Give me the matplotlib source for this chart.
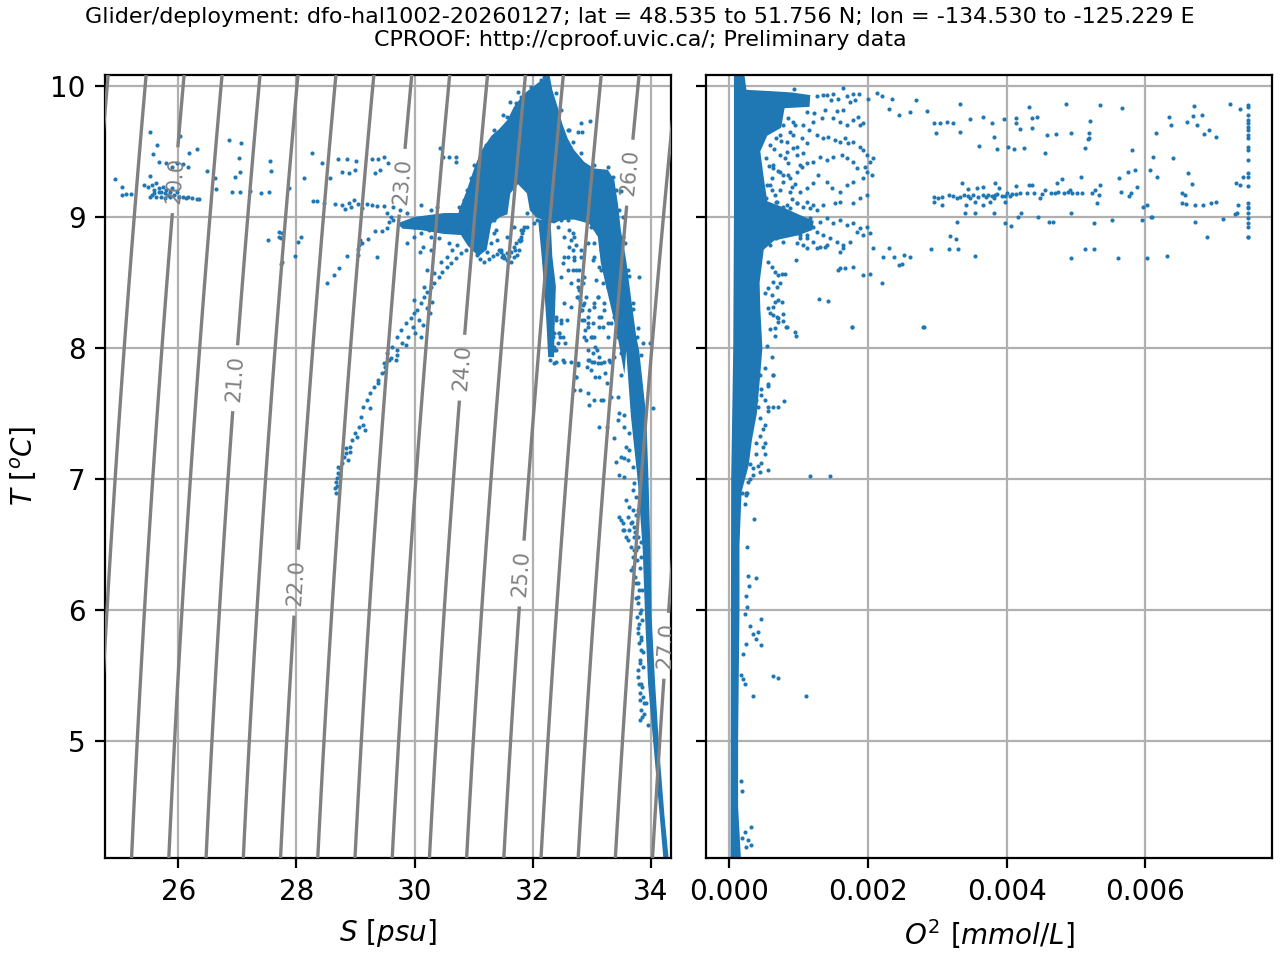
import numpy as np
import matplotlib
matplotlib.use('Agg')
import matplotlib.pyplot as plt

# title text
title = ('Glider/deployment: dfo-hal1002-20260127; lat = 48.535 to 51.756 N; '
         'lon = -134.530 to -125.229 E\nCPROOF: http://cproof.uvic.ca/; Preliminary data')

# --- T-S panel: dense core of the point cloud (salinity, temperature) ---
core_sal = [32.28, 32.33, 32.42, 32.50, 32.59, 32.70, 32.87, 33.04, 33.27, 33.38, 33.44,
            33.49, 33.58, 33.66, 33.75, 33.80, 33.92, 33.96, 33.99, 34.01, 34.07, 34.14,
            34.23, 34.30, 34.21, 34.15, 34.05, 33.95, 33.90, 33.86, 33.78, 33.66, 33.58,
            33.55, 33.45, 33.38, 33.25, 33.15, 33.10, 32.95, 32.70, 32.59, 32.45, 32.36,
            32.20, 32.05, 31.95, 31.90, 31.75, 31.62, 31.57, 31.45, 31.30, 31.22, 31.08,
            30.90, 30.80, 30.72, 30.75, 30.88, 31.00, 31.12, 31.30, 31.43, 31.57, 31.68,
            31.85, 32.08]
core_temp = [10.09, 9.97, 9.84, 9.71, 9.60, 9.51, 9.42, 9.37, 9.36, 9.28, 9.10,
             8.90, 8.67, 8.39, 8.09, 7.98, 7.48, 6.97, 6.46, 5.95, 5.44, 4.93,
             4.42, 4.10, 4.10, 4.42, 4.93, 5.44, 5.95, 6.46, 6.97, 7.48, 7.98,
             7.80, 8.05, 8.20, 8.45, 8.65, 8.85, 8.95, 8.98, 8.98, 8.97, 8.95,
             8.97, 9.00, 9.05, 9.18, 9.25, 9.18, 9.02, 9.00, 8.95, 8.75, 8.70,
             8.78, 8.85, 8.93, 9.05, 9.20, 9.36, 9.50, 9.62, 9.67, 9.74, 9.84,
             9.94, 10.02]

# horizontal tongue at ~9 degC
tongue_sal = [29.70, 30.00, 30.50, 30.85, 30.85, 30.50, 30.10, 29.80]
tongue_temp = [8.95, 9.00, 9.03, 9.03, 8.86, 8.87, 8.90, 8.91]

# dense central branch below the cloud
branch_sal = [32.09, 32.15, 32.19, 32.23, 32.26, 32.36, 32.37, 32.39, 32.33, 32.30]
branch_temp = [8.98, 8.70, 8.47, 8.20, 7.93, 7.93, 8.20, 8.47, 8.70, 8.98]

# individual T-S points (salinity, temperature)
ts_points = [
    # fresh warm surface patch
    (24.935, 9.290), (25.049, 9.226), (25.041, 9.168), (25.124, 9.173), (25.200, 9.173),
    (25.518, 9.646), (25.647, 9.549), (25.571, 9.480), (25.669, 9.417), (25.518, 9.315),
    (25.420, 9.244), (25.480, 9.231), (25.556, 9.244), (25.594, 9.206), (25.631, 9.257),
    (25.669, 9.218), (25.707, 9.193), (25.745, 9.231), (25.783, 9.180), (25.798, 9.206),
    (25.858, 9.193), (25.896, 9.218), (25.556, 9.168), (25.631, 9.155), (25.707, 9.155),
    (25.594, 9.180), (25.934, 9.168), (25.972, 9.193), (26.010, 9.155), (26.085, 9.155),
    (26.123, 9.142), (26.161, 9.150), (26.237, 9.142), (26.312, 9.134), (26.350, 9.134),
    (25.858, 9.155), (25.783, 9.142), (25.518, 9.155), (25.820, 9.170), (25.680, 9.190),
    (25.798, 9.409), (25.896, 9.384), (25.972, 9.409), (26.085, 9.404), (26.161, 9.384),
    (26.025, 9.618), (26.184, 9.486), (26.312, 9.516), (26.494, 9.351), (26.615, 9.295),
    (26.638, 9.216), (26.865, 9.585), (27.062, 9.562), (27.031, 9.447), (27.046, 9.340),
    (26.918, 9.188), (27.046, 9.188), (26.956, 9.307), (27.220, 9.201), (27.395, 9.183),
    (27.538, 9.193), (27.561, 9.424), (27.576, 9.348), (27.879, 9.223), (28.129, 9.295),
    (28.257, 9.486), (28.431, 9.409), (28.560, 9.295), (28.711, 9.442), (28.863, 9.440),
    (29.014, 9.427), (28.772, 9.340), (28.885, 9.333), (28.999, 9.358), (29.271, 9.442),
    (29.377, 9.440), (29.475, 9.455), (29.551, 9.414), (29.415, 9.358), (29.324, 9.338),
    # row near 9.1 degC
    (28.280, 9.124), (28.356, 9.119), (28.469, 9.109), (28.658, 9.099), (28.772, 9.089),
    (28.885, 9.104), (28.976, 9.129), (29.037, 9.099), (29.188, 9.099), (29.279, 9.089),
    (29.362, 9.083), (29.475, 9.083), (28.825, 9.063), (28.923, 9.073), (29.112, 9.066),
    (29.528, 9.027), (29.604, 9.002), (29.566, 8.964), (29.642, 8.977), (29.642, 9.078),
    (29.756, 9.053), (29.869, 9.027), (29.945, 8.977), (30.058, 8.951), (30.172, 8.926),
    (30.247, 8.900),
    # scattered below the row
    (27.523, 8.824), (27.712, 8.888), (27.735, 8.837), (27.750, 8.875), (27.712, 8.849),
    (27.735, 8.638), (27.750, 8.653), (27.977, 8.702), (28.030, 8.806), (28.076, 8.849),
    (28.522, 8.493), (28.643, 8.557), (28.719, 8.608), (28.863, 8.702), (29.037, 8.709),
    (29.075, 8.824), (29.052, 8.786), (29.112, 8.799), (29.037, 8.753), (29.203, 8.832),
    (29.324, 8.895), (29.453, 8.895), (29.528, 8.913), (29.362, 8.697),
    (30.437, 9.524), (30.475, 9.460), (30.588, 9.460), (30.702, 9.455), (30.702, 9.422),
    (29.869, 8.799), (29.983, 8.849), (30.134, 8.773), (30.285, 8.748), (30.096, 8.735),
    # arc towards the cold fresh end
    (30.297, 8.353), (30.202, 8.302), (30.075, 8.213), (29.980, 8.162), (29.884, 8.086),
    (29.789, 8.035), (29.694, 7.984), (29.599, 7.921), (29.567, 7.908), (29.503, 7.857),
    (29.440, 7.806), (29.376, 7.755), (29.313, 7.704), (29.249, 7.654), (29.186, 7.603),
    (29.122, 7.552), (29.091, 7.475), (29.059, 7.399), (28.995, 7.348), (28.932, 7.297),
    (28.900, 7.246), (28.837, 7.196), (28.773, 7.119), (28.742, 7.081), (28.710, 7.043),
    (28.678, 6.979), (28.665, 6.890), (29.154, 7.374), (29.027, 7.323), (29.122, 7.412),
    (29.249, 7.539), (29.376, 7.730), (29.503, 7.819), (29.694, 7.946), (29.853, 8.023),
    (30.011, 8.112), (30.138, 8.175), (30.265, 8.264), (28.900, 7.208), (28.837, 7.234),
    (28.805, 7.170), (28.868, 7.145), (28.710, 7.094), (28.742, 7.030), (28.691, 7.005),
    (28.660, 6.930), (28.690, 6.950),
    (29.537, 7.959), (29.622, 8.010), (29.706, 8.086), (29.763, 8.137), (29.848, 8.188),
    (29.932, 8.226), (29.989, 8.264), (30.045, 8.290), (30.102, 8.341), (30.158, 8.392),
    (30.215, 8.430), (30.271, 8.468), (30.328, 8.494), (30.413, 8.544), (30.469, 8.583),
    (30.554, 8.621), (30.610, 8.646), (30.695, 8.684), (30.780, 8.723), (30.865, 8.748),
    (30.949, 8.786), (29.989, 8.366), (30.158, 8.468), (30.328, 8.570), (30.441, 8.659),
    (30.554, 8.697), (30.639, 8.748), (30.723, 8.786), (30.215, 8.595), (30.102, 8.086),
    (29.678, 7.908), (29.480, 7.883),
    # hanging loop
    (31.345, 8.977), (31.373, 8.901), (31.401, 8.824), (31.430, 8.748), (31.486, 8.697),
    (31.571, 8.672), (31.684, 8.697), (31.769, 8.748), (31.797, 8.824), (31.797, 8.901),
    (31.910, 8.926), (31.684, 8.926), (31.458, 8.735), (31.627, 8.659), (31.740, 8.710),
    (31.514, 8.684), (31.458, 8.748), (31.571, 8.723), (31.684, 8.773), (31.769, 8.824),
    (31.825, 8.875), (31.853, 8.926), (31.514, 8.697), (31.627, 8.735), (31.712, 8.799),
    (31.797, 8.850), (31.10, 8.68), (31.18, 8.66), (31.26, 8.68), (31.33, 8.70),
    (31.40, 8.72), (31.50, 8.71), (31.60, 8.70), (31.70, 8.75), (31.78, 8.82),
    (31.84, 8.90), (31.30, 8.80), (31.35, 8.88),
    # central branch
    (32.079, 8.977), (32.136, 8.901), (32.192, 8.799), (32.221, 8.697), (32.249, 8.595),
    (32.277, 8.494), (32.277, 8.392), (32.305, 8.290), (32.317, 8.188), (32.334, 8.086),
    (32.351, 7.985), (32.362, 7.883), (32.249, 8.341), (32.390, 8.239), (32.446, 8.112),
    (32.305, 8.443), (32.221, 8.544), (32.475, 8.188), (32.503, 8.086), (32.192, 8.646),
    (32.329, 8.315), (32.392, 8.213), (32.360, 8.111), (32.424, 8.035), (32.392, 7.984),
    (32.392, 7.895), (32.583, 8.213), (32.646, 7.895), (32.551, 8.035), (32.456, 8.086),
    (32.531, 8.697), (32.588, 8.595), (32.644, 8.494), (32.475, 8.544), (32.757, 8.392),
    (32.644, 8.316), (32.475, 8.214), (32.447, 8.112), (32.531, 8.341), (32.362, 8.010),
    (32.294, 7.908), (32.503, 7.908), (32.757, 7.883), (32.729, 7.781),
    # second branch
    (32.418, 8.926), (32.531, 8.850), (32.616, 8.773), (32.701, 8.697), (32.786, 8.595),
    (32.842, 8.494), (32.899, 8.392), (32.955, 8.290), (33.012, 8.188), (33.040, 8.086),
    (33.085, 7.985), (33.096, 7.883), (32.588, 8.697), (32.673, 8.595), (32.757, 8.468),
    (32.870, 8.341), (32.814, 8.290), (32.927, 8.188), (32.983, 8.086), (32.503, 8.646),
    (32.588, 8.977), (32.616, 8.901), (32.644, 8.824), (32.673, 8.748), (32.701, 8.672),
    (32.729, 8.595), (32.757, 8.519), (32.786, 8.443), (32.803, 8.366), (32.825, 8.290),
    (32.859, 8.214), (32.882, 8.137), (32.904, 8.061), (32.938, 7.985), (32.955, 7.908),
    (32.983, 7.832), (32.673, 8.875), (32.729, 8.786), (32.814, 8.697), (32.870, 8.544),
    (32.746, 8.392), (32.842, 8.328), (32.927, 8.239), (32.870, 8.086), (33.012, 7.959),
    (32.916, 7.857),
    (33.153, 8.595), (33.266, 8.468), (33.379, 8.341), (33.322, 8.188), (33.435, 8.086),
    (33.209, 8.290), (33.096, 8.392), (33.492, 7.959), (33.379, 7.934), (33.266, 8.086),
    (33.181, 8.163), (33.125, 8.239), (33.040, 8.341), (33.322, 8.544),
    (32.983, 8.926), (33.096, 8.875), (33.209, 8.901), (33.040, 8.799), (33.153, 8.748),
    (33.266, 8.773), (33.012, 8.672), (33.125, 8.621), (33.238, 8.646), (33.068, 8.519),
    (33.181, 8.494), (33.294, 8.544), (33.096, 8.392), (33.209, 8.341), (33.322, 8.392),
    (33.153, 8.239), (33.266, 8.188), (33.125, 8.163), (33.379, 8.239), (33.040, 8.316),
    (33.266, 8.468),
    (32.837, 8.213), (32.932, 8.162), (32.995, 8.086), (33.059, 8.010), (33.122, 7.933),
    (33.154, 7.883), (33.218, 7.806), (33.281, 7.908), (33.249, 7.730), (32.805, 7.679),
    (33.186, 7.603), (33.249, 7.399), (33.313, 7.895), (33.440, 7.628), (33.535, 7.488),
    (33.059, 7.781), (33.122, 7.781), (32.995, 7.895),
    # near the top of the cloud
    (32.61, 9.664), (32.81, 9.72), (32.97, 9.73), (32.76, 9.65), (32.83, 9.65),
    (33.80, 8.54), (33.86, 8.04),
    (31.119, 9.384), (31.062, 9.333), (30.978, 9.257), (30.893, 9.206), (30.836, 9.130),
    (30.752, 9.079), (31.288, 9.486), (31.401, 9.562), (31.486, 9.664), (31.571, 9.766),
    (31.712, 9.868), (31.797, 9.918), (31.966, 9.995), (32.136, 10.046), (32.249, 10.097),
    (32.192, 10.071), (32.390, 9.944), (32.475, 9.817), (32.588, 9.664), (32.673, 9.575),
    (32.814, 9.486), (33.040, 9.397), (33.266, 9.384), (33.351, 9.308), (33.407, 9.206),
    (33.464, 9.053), (33.520, 8.850), (33.605, 8.595), (33.690, 8.341), (33.763, 8.086),
    (31.00, 9.40), (30.95, 9.30), (31.20, 9.55), (31.35, 9.66), (31.50, 9.78),
    (31.62, 9.88), (31.75, 9.95), (30.85, 9.12), (30.78, 9.00), (31.10, 9.45),
    (33.53, 9.00), (33.56, 8.80), (33.63, 8.55), (33.70, 8.30), (33.78, 8.15),
    (33.83, 7.95), (33.50, 9.20),
    (30.271, 9.053), (30.384, 9.079), (30.102, 9.092), (29.989, 8.926), (30.102, 8.875),
    (30.271, 8.850), (30.413, 8.837), (30.582, 8.799), (30.836, 8.901), (31.006, 8.850),
    (31.119, 8.773), (31.232, 8.735), (31.062, 8.710), (31.571, 8.850), (31.910, 9.028),
    (32.023, 8.952), (32.305, 8.977), (32.475, 8.977), (32.701, 8.850), (32.814, 8.748),
    (32.927, 8.799), (33.040, 8.697),
    # cold salty tail
    (32.531, 7.896), (32.757, 7.870), (32.927, 7.909), (33.040, 7.896), (33.209, 7.896),
    (32.729, 7.781), (32.701, 7.680), (32.927, 7.654), (33.040, 7.603), (33.153, 7.603),
    (32.955, 7.565), (33.125, 7.400), (33.322, 7.629), (33.492, 7.794), (33.379, 7.311),
    (33.407, 7.133), (33.548, 7.158), (33.464, 7.031), (33.548, 7.018), (33.633, 7.222),
    (33.690, 7.094), (33.464, 6.713), (33.520, 6.662), (33.548, 6.611), (33.605, 6.535),
    (33.661, 6.306), (33.718, 6.560), (33.774, 6.484), (33.690, 6.407), (33.774, 6.051),
    (33.803, 5.898), (33.831, 5.695), (33.803, 5.440), (33.831, 5.237), (33.820, 5.161),
    (33.944, 5.123), (33.492, 6.687), (33.605, 6.713), (33.661, 6.662), (33.718, 6.636),
    (33.633, 6.611), (33.577, 6.560), (33.661, 6.484), (33.746, 6.458), (33.831, 6.407),
    (33.690, 6.331), (33.746, 6.204), (33.803, 6.153), (33.774, 6.102), (33.831, 6.000),
    (33.763, 5.949), (33.786, 5.822), (33.831, 5.771), (33.820, 5.619), (33.859, 5.568),
    (33.786, 5.542), (33.831, 5.440), (33.859, 5.339), (33.808, 5.313), (33.887, 5.211),
    (33.916, 5.288), (33.718, 6.967), (33.746, 6.865), (33.831, 6.815), (33.774, 6.764),
    (33.690, 6.916), (33.577, 6.840), (33.520, 6.611), (33.464, 7.502), (33.435, 7.451),
    (33.548, 7.400), (33.633, 7.349), (33.577, 7.247), (33.492, 7.171), (33.605, 7.145),
    (33.633, 6.789), (33.690, 6.764), (33.746, 6.725), (33.673, 6.675), (33.729, 6.598),
    (33.774, 6.560), (33.831, 6.522), (33.707, 6.458), (33.763, 6.382), (33.808, 6.318),
    (33.729, 6.255), (33.786, 6.204), (33.842, 6.153), (33.752, 6.089), (33.808, 5.975),
    (33.854, 5.924), (33.774, 5.860), (33.831, 5.797), (33.797, 5.746), (33.865, 5.682),
    (33.820, 5.593), (33.786, 5.491), (33.842, 5.415), (33.808, 5.364), (33.876, 5.288),
    (33.842, 5.186),
    (33.98, 8.04), (34.03, 7.54),
]

# --- oxygen panel (O2 in umol/L, temperature) ---
# dense low-oxygen column with the two warm plumes
col_o2 = [0.17, 0.13, 0.13, 0.14, 0.15, 0.15, 0.18, 0.28, 0.33, 0.40, 0.45, 0.48, 0.45,
          0.44, 0.50, 0.65, 1.00, 1.20, 1.22, 1.00, 0.75, 0.55, 0.50, 0.45, 0.55, 0.75,
          0.80, 1.16, 1.17, 0.90, 0.60, 0.25, 0.22, 0.07, 0.07, 0.06, 0.03, 0.02]
col_temp = [4.11, 4.50, 5.00, 5.50, 6.00, 6.50, 6.90, 7.10, 7.30, 7.50, 7.80, 8.00, 8.30,
            8.50, 8.75, 8.82, 8.86, 8.90, 8.97, 9.02, 9.08, 9.12, 9.30, 9.50, 9.62, 9.68,
            9.83, 9.84, 9.93, 9.95, 9.96, 9.97, 10.09, 10.09, 9.00, 8.00, 7.00, 4.11]

o2_points = [
    # upper plume and its spread
    (0.934, 9.977), (1.262, 9.926), (1.349, 9.931), (1.407, 9.931), (1.503, 9.936),
    (1.464, 9.893), (1.575, 9.898), (1.647, 9.982), (1.696, 9.926), (1.782, 9.939),
    (1.879, 9.936), (2.009, 9.901), (1.647, 9.817), (1.561, 9.809), (1.382, 9.817),
    (1.228, 9.791), (1.118, 9.799), (1.744, 9.880), (1.816, 9.893), (2.139, 9.944),
    (2.211, 9.926), (2.355, 9.901), (2.693, 9.893), (2.298, 9.824), (2.442, 9.779),
    (2.611, 9.804), (2.852, 9.809),
    (0.853, 9.753), (0.925, 9.728), (1.069, 9.702), (1.214, 9.728), (1.334, 9.753),
    (1.503, 9.753), (1.599, 9.728), (1.696, 9.702), (1.792, 9.740), (1.888, 9.702),
    (1.936, 9.715), (1.864, 9.766), (1.262, 9.626), (1.358, 9.600), (1.431, 9.613),
    (1.527, 9.588), (1.599, 9.575), (1.671, 9.600), (1.720, 9.562), (1.792, 9.575),
    (1.888, 9.537), (1.936, 9.511), (1.985, 9.473), (2.033, 9.422), (2.081, 9.448),
    (1.960, 9.384), (1.985, 9.346), (2.057, 9.321), (1.936, 9.295), (1.840, 9.371),
    (1.792, 9.422), (1.696, 9.448), (1.623, 9.473), (1.503, 9.461), (1.407, 9.435),
    (1.310, 9.461), (1.214, 9.422), (1.118, 9.410), (1.045, 9.384), (0.973, 9.346),
    (0.853, 9.321), (0.732, 9.346), (0.636, 9.371), (0.780, 9.270), (0.901, 9.231),
    (1.021, 9.193), (1.118, 9.219), (1.214, 9.257), (1.286, 9.321), (1.407, 9.270),
    (1.479, 9.219), (1.599, 9.193), (1.696, 9.244), (1.792, 9.270), (1.888, 9.142),
    (1.985, 9.168), (1.792, 9.104), (1.599, 9.117), (1.527, 9.104), (1.358, 9.091),
    (1.214, 9.091), (1.118, 9.117), (0.973, 9.104), (0.877, 9.066), (0.780, 9.079),
    (0.684, 9.117), (0.612, 9.206), (0.540, 9.244), (0.829, 9.499), (0.973, 9.537),
    (1.118, 9.562), (0.732, 9.626), (0.636, 9.677), (0.925, 9.626), (1.069, 9.486),
    (0.539, 9.830), (0.611, 9.804), (0.539, 9.728), (0.780, 9.702), (0.876, 9.651),
    (0.683, 9.601), (0.587, 9.550), (0.828, 9.575), (0.924, 9.524), (0.732, 9.473),
    (0.539, 9.448), (0.635, 9.397), (0.852, 9.410), (0.973, 9.473), (1.021, 9.397),
    (0.780, 9.321), (0.876, 9.295), (0.587, 9.244), (0.732, 9.206), (0.876, 9.193),
    (0.539, 9.143), (0.683, 9.117), (0.828, 9.092), (0.973, 9.104), (1.069, 9.079),
    (1.165, 9.066), (1.262, 9.053), (1.093, 8.964), (1.213, 8.926), (0.924, 8.888),
    (1.021, 8.863), (1.117, 8.837), (0.683, 8.837), (0.587, 8.786), (0.780, 8.812),
    (0.60, 9.67), (0.65, 9.52), (0.70, 9.35), (0.62, 9.30), (0.95, 9.25), (1.05, 9.60),
    (0.80, 9.45), (0.57, 9.39), (0.66, 9.17), (0.90, 9.14), (0.75, 9.58), (1.15, 9.66),
    (0.95, 9.70), (0.70, 9.74),
    # lower plume
    (1.166, 8.990), (1.310, 8.964), (1.407, 8.990), (1.503, 8.951), (1.599, 8.977),
    (1.696, 8.939), (1.792, 8.951), (1.888, 8.913), (1.985, 8.926), (1.262, 8.888),
    (1.358, 8.862), (1.455, 8.837), (1.551, 8.812), (1.647, 8.786), (1.744, 8.812),
    (1.118, 8.862), (1.021, 8.837), (1.214, 8.812), (1.310, 8.773), (1.407, 8.786),
    (1.599, 8.735), (1.647, 8.761), (1.840, 8.888), (1.936, 8.862), (2.033, 8.875),
    (0.973, 8.799), (1.069, 8.786), (1.118, 8.761), (1.262, 8.761), (1.382, 8.773),
    (1.599, 8.608), (1.671, 8.613), (1.792, 8.621), (1.575, 8.595), (1.936, 8.557),
    (2.033, 8.562), (2.201, 8.493), (0.963, 8.672), (0.564, 8.659), (0.612, 8.621),
    (0.660, 8.582), (0.708, 8.557), (0.756, 8.562), (0.804, 8.562), (0.636, 8.506),
    (0.684, 8.468), (0.732, 8.493), (0.564, 8.455), (0.515, 8.417), (0.612, 8.404),
    (0.660, 8.354), (0.708, 8.366), (0.756, 8.354), (0.564, 8.303), (0.588, 8.264),
    (0.636, 8.252), (0.684, 8.239), (0.780, 8.206), (0.708, 8.201), (0.660, 8.150),
    (0.829, 8.163), (0.949, 8.120), (1.768, 8.163), (2.803, 8.163), (1.301, 8.371),
    (1.426, 8.361), (2.298, 8.761), (2.514, 8.710), (2.611, 8.697), (2.225, 8.697),
    (2.370, 8.697), (2.081, 8.761), (2.442, 8.633), (2.490, 8.639),
    # sparse high-oxygen points
    (3.333, 9.860), (4.320, 9.837), (4.853, 9.860), (5.349, 9.852), (5.669, 9.829),
    (6.704, 9.847), (7.227, 9.860), (7.360, 9.822), (7.483, 9.855), (7.483, 9.837),
    (2.960, 9.720), (3.040, 9.720), (3.147, 9.722), (3.227, 9.715), (3.477, 9.745),
    (3.664, 9.766), (3.792, 9.720), (3.963, 9.745), (4.133, 9.753), (4.133, 9.720),
    (4.187, 9.672), (4.363, 9.753), (4.443, 9.766), (4.373, 9.677), (5.200, 9.735),
    (6.336, 9.766), (6.373, 9.702), (6.597, 9.722), (6.693, 9.773), (6.811, 9.779),
    (6.747, 9.700), (6.917, 9.664), (6.843, 9.633), (7.013, 9.608),
    (7.483, 9.779), (7.483, 9.740), (7.483, 9.715), (7.483, 9.689), (7.483, 9.664),
    (7.483, 9.626), (7.483, 9.600), (7.483, 9.537), (7.483, 9.511), (7.483, 9.435),
    (7.483, 9.333), (7.483, 9.308), (7.483, 9.237), (7.483, 9.104), (7.483, 9.079),
    (7.483, 9.066), (7.483, 9.028), (7.483, 8.990), (7.483, 8.952), (7.483, 8.926),
    (7.483, 8.850), (7.413, 9.308), (7.307, 9.262), (7.360, 9.244), (7.333, 9.092),
    (7.323, 9.033), (7.296, 9.023),
    (2.976, 9.639), (3.333, 9.646), (3.813, 9.608), (3.600, 9.542), (3.867, 9.519),
    (4.016, 9.537), (4.107, 9.519), (4.251, 9.529), (4.560, 9.486), (4.587, 9.626),
    (4.709, 9.633), (4.923, 9.639), (5.189, 9.639), (5.189, 9.600), (5.173, 9.595),
    (5.131, 9.529), (5.813, 9.511), (6.117, 9.460), (6.160, 9.639), (6.400, 9.453),
    (5.851, 9.359), (6.069, 9.359), (6.171, 9.303), (6.613, 9.333), (6.667, 9.249),
    (6.533, 9.181), (6.571, 9.168), (5.883, 9.226), (5.787, 9.181), (5.760, 9.160),
    (5.616, 9.295), (5.653, 9.193), (5.749, 9.346),
    # streak near 9.17 degC
    (2.960, 9.155), (3.067, 9.155), (3.163, 9.168), (3.227, 9.160), (3.333, 9.155),
    (3.387, 9.168), (3.440, 9.160), (3.520, 9.168), (3.573, 9.219), (3.589, 9.155),
    (3.653, 9.165), (3.733, 9.168), (3.787, 9.160), (3.840, 9.168), (3.867, 9.175),
    (3.931, 9.160), (4.000, 9.181), (4.053, 9.160), (4.133, 9.175), (4.293, 9.186),
    (4.363, 9.244), (4.480, 9.147), (4.560, 9.206), (4.640, 9.186), (4.747, 9.193),
    (4.827, 9.181), (4.907, 9.206), (4.949, 9.181), (5.013, 9.186), (5.093, 9.186),
    (5.227, 9.181), (5.280, 9.206), (5.349, 9.244), (5.333, 9.168), (5.067, 9.303),
    (4.800, 9.287), (4.720, 9.257), (4.320, 9.244), (4.133, 9.237), (3.893, 9.219),
    (3.840, 9.257), (3.653, 9.231), (3.440, 9.214), (3.360, 9.257), (3.013, 9.142),
    (3.280, 9.147), (3.467, 9.142), (3.707, 9.155), (3.813, 9.147), (3.973, 9.160),
    (4.080, 9.173), (4.187, 9.181), (4.400, 9.181), (4.507, 9.175), (4.693, 9.181),
    (4.880, 9.188),
    (2.960, 9.117), (3.067, 9.092), (3.413, 9.092), (3.547, 9.117), (3.653, 9.092),
    (3.760, 9.112), (3.984, 9.117), (4.933, 9.033), (5.307, 9.104), (5.973, 9.079),
    (6.027, 9.092), (6.080, 9.002), (6.533, 9.104), (6.587, 9.097), (6.720, 9.092),
    (6.827, 9.092), (6.949, 9.104), (7.013, 9.117),
    (3.280, 8.959), (3.397, 9.033), (3.547, 9.028), (3.813, 9.028), (3.973, 8.952),
    (4.069, 8.931), (4.160, 9.002), (4.213, 9.028), (4.453, 9.002), (4.613, 8.959),
    (4.667, 8.959), (5.253, 8.952), (5.520, 8.977), (5.957, 8.977), (6.096, 9.002),
    (6.709, 8.959), (7.120, 8.982), (6.891, 8.845), (7.483, 8.845), (4.923, 8.684),
    (5.131, 8.753), (5.253, 8.753), (5.600, 8.684), (6.027, 8.684), (6.309, 8.702),
    (3.547, 8.702), (3.184, 8.857), (3.269, 8.829), (3.173, 8.753), (3.296, 8.753),
    (2.907, 8.753), (2.789, 8.158),
    # deeper, cooler points beside the column
    (1.768, 8.161), (0.963, 8.093), (0.819, 8.161), (1.166, 7.022), (1.455, 7.022),
    (0.790, 7.594), (0.708, 7.548), (0.636, 7.793), (0.564, 7.725), (0.361, 6.698),
    (0.265, 6.479), (0.385, 6.245), (0.274, 6.259), (0.284, 6.185), (0.241, 6.109),
    (0.265, 6.027), (0.226, 5.967), (0.467, 5.931), (0.298, 5.877), (0.419, 5.831),
    (0.347, 5.817), (0.395, 5.776), (0.467, 5.735), (0.241, 5.743), (0.202, 5.667),
    (0.626, 5.495), (0.698, 5.482), (0.347, 5.348), (1.107, 5.348), (0.202, 5.476),
    (0.226, 5.435), (0.178, 5.503), (0.178, 4.699), (0.193, 4.617), (0.313, 4.345),
    (0.226, 4.304), (0.274, 4.249), (0.322, 4.208), (0.241, 4.195), (0.193, 4.263),
    (0.193, 6.894), (0.241, 6.880), (0.260, 6.894), (0.226, 6.812), (0.241, 7.134),
    (0.298, 7.112), (0.419, 7.098), (0.554, 7.071), (0.467, 7.125), (0.491, 7.248),
    (0.515, 7.275), (0.443, 7.330), (0.515, 7.412), (0.395, 7.194), (0.347, 7.030),
    (0.274, 6.975), (0.636, 7.548), (0.564, 7.521), (0.419, 7.548),
    (0.395, 7.821), (0.467, 7.684), (0.515, 7.603), (0.564, 7.548), (0.443, 7.466),
    (0.491, 7.385), (0.395, 7.275), (0.515, 7.194), (0.347, 7.085), (0.443, 7.057),
    (0.299, 7.003), (0.250, 6.894), (0.636, 8.311), (0.708, 8.230), (0.780, 8.257),
    (0.588, 8.148), (0.660, 8.093), (0.540, 8.012), (0.612, 7.930), (0.515, 7.848),
    (0.443, 7.794), (0.636, 7.794), (0.564, 7.712), (0.467, 7.644), (0.395, 7.603),
]

# density contours: half-unit lines, integer ones labelled
plain_levels = np.arange(15.5, 28.01, 1.0)
label_levels = np.arange(15.0, 28.01, 1.0)
label_spots = [(25.95, 9.28), (26.95, 7.77), (27.98, 6.21), (29.76, 9.27),
               (30.80, 7.85), (31.78, 6.28), (33.59, 9.34), (34.20, 5.73)]


def sigma0(S, T):
    # UNESCO (1980) equation of state at the surface, minus 1000
    rw = (999.842594 + 6.793952e-2 * T - 9.095290e-3 * T**2 + 1.001685e-4 * T**3
          - 1.120083e-6 * T**4 + 6.536332e-9 * T**5)
    a = 0.824493 - 4.0899e-3 * T + 7.6438e-5 * T**2 - 8.2467e-7 * T**3 + 5.3875e-9 * T**4
    b = -5.72466e-3 + 1.0227e-4 * T - 1.6546e-6 * T**2
    return rw + a * S + b * S**1.5 + 4.8314e-4 * S**2 - 1000.0


ts = np.array(ts_points)
ox = np.array(o2_points)

fig = plt.figure(figsize=(6.4, 4.8), dpi=200)
axs = fig.subplots(1, 2, sharey=True)
fig.subplots_adjust(left=0.082, right=0.994, bottom=0.106, top=0.922, wspace=0.062)

# T-S diagram
ax = axs[0]
ax.fill(core_sal, core_temp, color='C0', lw=0, zorder=2)
ax.fill(tongue_sal, tongue_temp, color='C0', lw=0, zorder=2)
ax.fill(branch_sal, branch_temp, color='C0', lw=0, zorder=2)
ax.scatter(ts[:, 0], ts[:, 1], s=2.2, lw=0, color='C0', zorder=2)
ss, tt = np.meshgrid(np.linspace(24.0, 35.0, 220), np.linspace(3.5, 10.5, 220))
sig = sigma0(ss, tt)
ax.contour(ss, tt, sig, plain_levels, colors='0.5', linewidths=1.2, zorder=3)
cs = ax.contour(ss, tt, sig, label_levels, colors='0.5', linewidths=1.2, zorder=3)
ax.clabel(cs, manual=label_spots, fmt='%1.1f', fontsize=7.5)
ax.set_xlim(24.76, 34.34)
ax.set_ylim(4.107, 10.084)
ax.set_xlabel('$S\\ [psu]$')
ax.set_ylabel('$T\\ [^oC]$')
ax.grid(True)

# oxygen vs temperature
ax = axs[1]
ax.fill(np.array(col_o2) * 1e-3, col_temp, color='C0', lw=0, zorder=2)
ax.scatter(ox[:, 0] * 1e-3, ox[:, 1], s=2.2, lw=0, color='C0', zorder=2)
ax.set_xlim(-0.00033, 0.00783)
ax.set_xlabel('$O^2\\ [mmol/L]$')
ax.grid(True)

fig.suptitle(title, fontsize=8, y=0.993, va='top')
fig.savefig('out.png')
